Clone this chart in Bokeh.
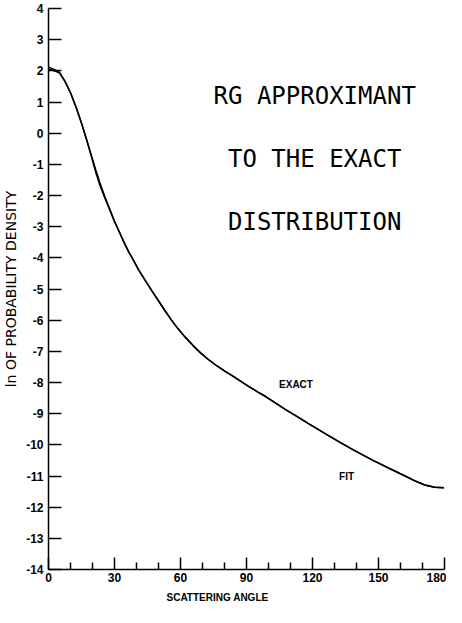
from bokeh.plotting import figure
from bokeh.models import FixedTicker, ColumnDataSource, Range1d, Title
from bokeh.core.properties import value
from bokeh.embed import file_html
from bokeh.resources import INLINE

# ---- data ----
angle = [0, 2, 4.9, 7.5, 10.1, 12.7, 15.2, 17.5, 19.7, 21.5, 23.4, 25.6, 27.8, 30,
         32.2, 34.5, 36.7, 38.1, 41.1, 44.1, 47, 49.9, 52.9, 55.9, 58.8, 61.8, 65.5,
         69.1, 72.8, 76.6, 80.3, 84.0, 87.6, 91.3, 95, 98.7, 103.1, 107.6, 112.5,
         117.8, 125, 132.7, 140, 147.5, 155, 162.1, 167, 171, 175.5, 179.8]
exact = [2.12, 2.06, 1.96, 1.66, 1.28, 0.80, 0.28, -0.25, -0.76, -1.18, -1.60, -2.03,
         -2.43, -2.82, -3.17, -3.52, -3.84, -4.01, -4.40, -4.74, -5.06, -5.37, -5.69,
         -6.00, -6.27, -6.52, -6.80, -7.05, -7.27, -7.47, -7.64, -7.80, -7.97, -8.14,
         -8.30, -8.45, -8.65, -8.86, -9.07, -9.30, -9.61, -9.93, -10.22, -10.50,
         -10.76, -11.00, -11.17, -11.29, -11.36, -11.38]
fit = [2.05, 2.02, 1.94, 1.66, 1.28, 0.80, 0.28, -0.25, -0.80, -1.26, -1.68, -2.08,
       -2.46, -2.84, -3.17, -3.54, -3.84, -4.01, -4.40, -4.74, -5.06, -5.37, -5.69,
       -6.00, -6.27, -6.52, -6.80, -7.05, -7.27, -7.47, -7.64, -7.80, -7.97, -8.14,
       -8.30, -8.45, -8.65, -8.86, -9.07, -9.30, -9.61, -9.93, -10.22, -10.50,
       -10.76, -11.00, -11.17, -11.29, -11.36, -11.38]

x_major = [0, 30, 60, 90, 120, 150, 180]
x_minor = [10, 20, 40, 50, 70, 80, 100, 110, 130, 140, 160, 170]
y_ticks = list(range(-14, 5))
y_tick_labels = [str(v) for v in y_ticks]

title_lines = ["RG APPROXIMANT", "TO THE EXACT", "DISTRIBUTION"]
title_y = [1.2, -0.82, -2.86]
curve_labels = ["EXACT", "FIT"]
curve_label_x = [112.5, 135.5]
curve_label_y = [-8.05, -11.03]

tick_font = "Liberation Sans"

p = figure(width=446, height=607, output_backend="svg", toolbar_location=None,
           x_range=Range1d(0, 180), y_range=Range1d(-14, 4),
           min_border_left=47, min_border_right=2, min_border_top=8,
           min_border_bottom=36)
p.outline_line_color = None
p.xgrid.visible = False
p.ygrid.visible = False
p.background_fill_color = "white"
p.border_fill_color = "white"

src = ColumnDataSource(dict(angle=angle, exact=exact, fit=fit))
p.line("angle", "fit", source=src, line_color="black", line_width=1.5)
p.line("angle", "exact", source=src, line_color="black", line_width=1.5)

# axes styling
xa = p.xaxis[0]
xa.ticker = FixedTicker(ticks=x_major, minor_ticks=x_minor)
xa.major_tick_in = 12
xa.major_tick_out = 0
xa.minor_tick_in = 7
xa.minor_tick_out = 0
xa.axis_line_width = 1.5
xa.major_tick_line_width = 1.5
xa.minor_tick_line_width = 1.5
xa.major_label_standoff = 3
xa.major_label_text_font = tick_font
xa.major_label_text_font_style = "bold"
xa.major_label_text_font_size = "12px"
xa.major_label_text_color = "black"

ya = p.yaxis[0]
ya.ticker = FixedTicker(ticks=y_ticks, minor_ticks=[])
ya.major_label_overrides = {v: s for v, s in zip(y_ticks, y_tick_labels)}
ya.major_tick_in = 13
ya.major_tick_out = 0
ya.minor_tick_in = 0
ya.minor_tick_out = 0
ya.axis_line_width = 1.5
ya.major_tick_line_width = 1.5
ya.major_label_standoff = 5
ya.major_label_text_font = tick_font
ya.major_label_text_font_style = "bold"
ya.major_label_text_font_size = "12px"
ya.major_label_text_color = "black"
ya.axis_label = "ln OF PROBABILITY DENSITY"
ya.axis_label_standoff = 4
ya.axis_label_text_font = "DejaVu Sans"
ya.axis_label_text_font_style = "normal"
ya.axis_label_text_font_size = "14px"
ya.axis_label_text_color = "black"

# x axis title, left-shifted as in the reference
p.add_layout(Title(text="SCATTERING ANGLE", align="left", offset=118,
                   text_font=tick_font, text_font_style="bold",
                   text_font_size="10px", text_color="black"), "below")

# title text block
p.text(x=[121] * len(title_lines), y=title_y, text=title_lines,
       text_font=value("DejaVu Sans Mono"), text_font_size="24px",
       text_align="center", text_baseline="middle", text_color="black")

# curve labels
p.text(x=curve_label_x, y=curve_label_y, text=curve_labels,
       text_font=value(tick_font), text_font_style="bold", text_font_size="10px",
       text_align="center", text_baseline="middle", text_color="black")

open("out.html", "w").write(file_html(p, INLINE))
